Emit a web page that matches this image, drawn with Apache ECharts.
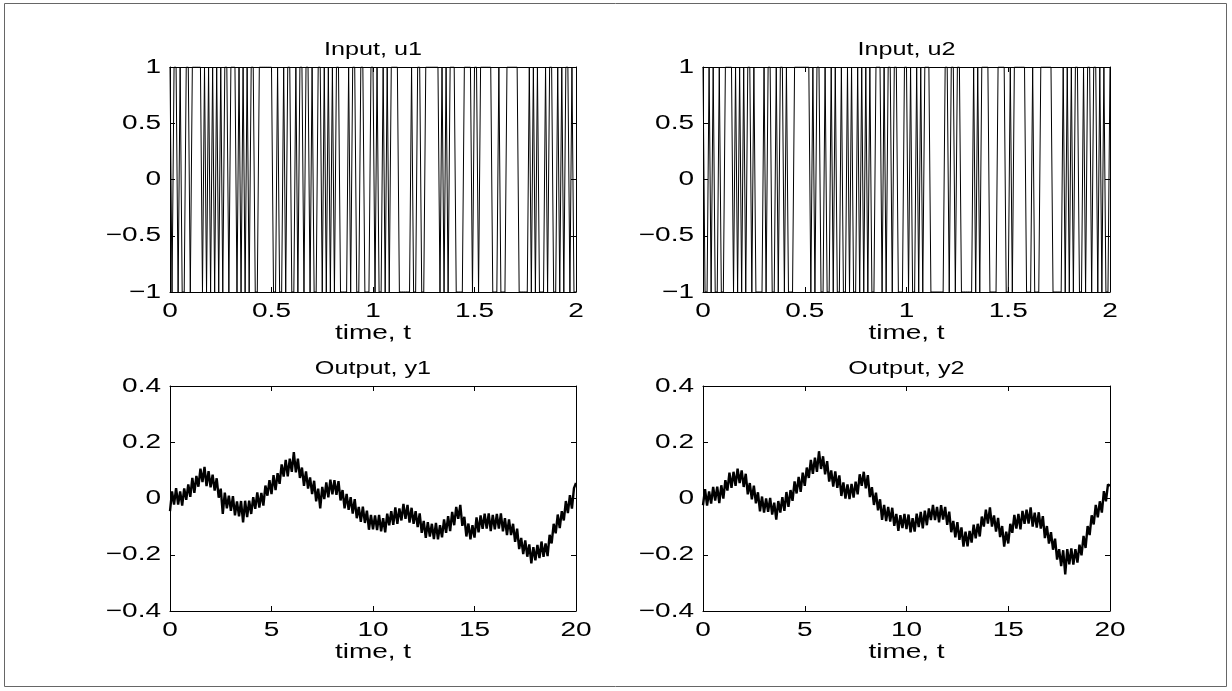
<!DOCTYPE html>
<html><head><meta charset="utf-8">
<script src="https://cdn.jsdelivr.net/npm/echarts@6/dist/echarts.min.js"></script>
<style>html,body{margin:0;padding:0;background:#fff}#c{width:1232px;height:691px}</style>
</head><body><div id="c"></div><script>
// ---- data ----
const titles = ['Input, u1', 'Input, u2', 'Output, y1', 'Output, y2'];
const xName = 'time, t';
const inputDt = 0.01;
const inputEnd = 2;
const outputDt = 0.1;

// tick labels
const inXTicks = [0, 0.5, 1, 1.5, 2];
const inYTicks = [-1, -0.5, 0, 0.5, 1];
const outXTicks = [0, 5, 10, 15, 20];
const outYTicks = [-0.4, -0.2, 0, 0.2, 0.4];

// switching instants (s) of the binary inputs
const u1Start = 1;
const u1Switch = [0.01,0.02,0.04,0.05,0.06,0.08,0.10,0.11,0.16,0.17,0.18,0.19,0.20,0.21,0.22,0.23,0.24,0.25,0.26,0.27,0.29,0.30,0.33,0.34,0.35,0.36,0.37,0.38,0.39,0.40,0.42,0.44,0.51,0.53,0.54,0.56,0.57,0.58,0.60,0.62,0.63,0.64,0.66,0.67,0.69,0.70,0.71,0.73,0.75,0.76,0.77,0.78,0.79,0.80,0.81,0.82,0.84,0.88,0.89,0.90,0.92,0.94,0.96,0.99,1.01,1.02,1.03,1.05,1.06,1.07,1.08,1.09,1.13,1.19,1.20,1.22,1.24,1.26,1.33,1.34,1.35,1.36,1.37,1.38,1.41,1.45,1.49,1.50,1.52,1.53,1.59,1.62,1.63,1.66,1.72,1.77,1.78,1.79,1.80,1.81,1.82,1.85,1.86,1.87,1.89,1.91,1.92,1.93,1.94,1.95,1.97,1.98,1.99];
const u2Start = 1;
const u2Switch = [0.01,0.03,0.04,0.05,0.06,0.08,0.09,0.11,0.15,0.16,0.17,0.18,0.19,0.20,0.21,0.22,0.24,0.25,0.26,0.30,0.31,0.32,0.34,0.36,0.37,0.38,0.40,0.41,0.42,0.45,0.53,0.54,0.55,0.56,0.58,0.60,0.61,0.63,0.64,0.65,0.66,0.68,0.69,0.71,0.72,0.73,0.74,0.76,0.77,0.78,0.79,0.80,0.81,0.82,0.83,0.85,0.88,0.89,0.90,0.91,0.93,0.94,0.96,0.99,1.01,1.02,1.03,1.05,1.06,1.07,1.08,1.09,1.12,1.19,1.21,1.22,1.24,1.25,1.27,1.33,1.34,1.35,1.36,1.37,1.41,1.45,1.49,1.51,1.52,1.53,1.59,1.62,1.63,1.66,1.72,1.77,1.78,1.79,1.80,1.81,1.82,1.83,1.85,1.87,1.88,1.89,1.91,1.92,1.94,1.95,1.96,1.97,1.98,2.00];

// outputs sampled every 0.1 s (0 .. 20 s)
const y1 = [
-0.045,0.025,-0.022,0.037,-0.022,0.025,-0.025,0.036,-0.005,0.05,
0.006,0.073,0.02,0.08,0.042,0.106,0.058,0.112,0.044,0.097,
0.04,0.085,0.028,0.072,0.003,0.035,-0.055,0.021,-0.035,0.01,
-0.044,0.008,-0.06,-0.01,-0.063,-0.009,-0.085,-0.008,-0.066,-0.008,
-0.055,0.005,-0.037,0.022,-0.032,0.02,-0.025,0.046,0.01,0.065,
0.016,0.083,0.03,0.09,0.052,0.121,0.078,0.137,0.079,0.142,
0.095,0.165,0.093,0.142,0.073,0.11,0.045,0.096,0.035,0.075,
0.016,0.063,-0.01,0.035,-0.035,0.041,-0.002,0.057,0.004,0.067,
0.015,0.065,0.013,0.062,-0.007,0.03,-0.035,0.016,-0.04,0.005,
-0.054,-0.002,-0.07,-0.03,-0.083,-0.029,-0.087,-0.043,-0.111,-0.058,
-0.11,-0.06,-0.112,-0.058,-0.117,-0.07,-0.12,-0.054,-0.095,-0.045,
-0.094,-0.032,-0.09,-0.035,-0.078,-0.019,-0.072,-0.023,-0.086,-0.033,
-0.09,-0.045,-0.102,-0.053,-0.122,-0.08,-0.14,-0.084,-0.135,-0.09,
-0.144,-0.087,-0.145,-0.095,-0.138,-0.074,-0.122,-0.063,-0.116,-0.048,
-0.095,-0.03,-0.072,-0.023,-0.097,-0.065,-0.135,-0.089,-0.145,-0.095,
-0.139,-0.067,-0.12,-0.06,-0.108,-0.054,-0.107,-0.053,-0.116,-0.058,
-0.11,-0.055,-0.107,-0.053,-0.117,-0.07,-0.13,-0.074,-0.13,-0.09,
-0.154,-0.107,-0.18,-0.14,-0.198,-0.149,-0.207,-0.163,-0.231,-0.173,
-0.22,-0.165,-0.212,-0.153,-0.207,-0.16,-0.205,-0.129,-0.16,-0.09,
-0.124,-0.057,-0.105,-0.045,-0.078,-0.009,-0.052,0.012,-0.036,0.037,
0.055];
const y2 = [
-0.024,0.033,-0.025,0.025,-0.018,0.041,-0.007,0.042,-0.016,0.047,
0.0,0.065,0.028,0.092,0.038,0.095,0.045,0.106,0.055,0.1,
0.041,0.088,0.015,0.055,-0.003,0.046,-0.017,0.022,-0.046,0.007,
-0.05,0.0,-0.047,0.002,-0.057,-0.015,-0.075,-0.009,-0.05,0.005,
-0.044,0.023,-0.03,0.03,-0.008,0.061,0.018,0.077,0.024,0.092,
0.045,0.11,0.073,0.137,0.088,0.145,0.095,0.168,0.105,0.15,
0.086,0.133,0.06,0.1,0.042,0.096,0.038,0.082,0.009,0.057,
0.0,0.05,-0.002,0.052,0.003,0.06,0.015,0.086,0.045,0.095,
0.036,0.083,0.005,0.04,-0.023,0.021,-0.042,-0.003,-0.076,-0.023,
-0.08,-0.03,-0.082,-0.033,-0.097,-0.055,-0.115,-0.059,-0.105,-0.055,
-0.109,-0.057,-0.12,-0.07,-0.118,-0.054,-0.102,-0.048,-0.106,-0.043,
-0.095,-0.035,-0.077,-0.023,-0.077,-0.03,-0.085,-0.024,-0.075,-0.03,
-0.094,-0.047,-0.12,-0.08,-0.138,-0.084,-0.147,-0.103,-0.171,-0.118,
-0.17,-0.115,-0.157,-0.093,-0.142,-0.09,-0.135,-0.064,-0.1,-0.04,
-0.089,-0.032,-0.1,-0.06,-0.118,-0.069,-0.137,-0.098,-0.171,-0.118,
-0.16,-0.09,-0.122,-0.058,-0.107,-0.055,-0.11,-0.044,-0.09,-0.04,
-0.089,-0.032,-0.1,-0.05,-0.103,-0.049,-0.107,-0.063,-0.141,-0.098,
-0.16,-0.12,-0.182,-0.143,-0.217,-0.18,-0.24,-0.184,-0.27,-0.18,
-0.234,-0.177,-0.235,-0.18,-0.228,-0.164,-0.202,-0.133,-0.176,-0.098,
-0.13,-0.06,-0.092,-0.023,-0.067,-0.01,-0.05,0.026,-0.01,0.05,
0.045];

// ---- build series data ----
function stepSignal(start, switches) {
  const sw = new Set(switches.map(t => Math.round(t / inputDt)));
  const n = Math.round(inputEnd / inputDt);
  const out = []; let v = start;
  for (let k = 0; k <= n; k++) {
    if (sw.has(k)) v = -v;
    out.push([+(k * inputDt).toFixed(2), v]);
  }
  return out;
}
function sampled(arr) { return arr.map((v, k) => [+(k * outputDt).toFixed(1), v]); }
function range(ticks) { return {min: ticks[0], max: ticks[ticks.length - 1], interval: +(ticks[1] - ticks[0]).toFixed(4)}; }

const FONT = '"Liberation Sans", Arial, Helvetica, sans-serif';
const SX = 1.4;           // horizontal stretch of the reference lettering
const fmt = v => String(v).replace('-', '\u2212');

const grids = [
  {left: 170, top: 67, width: 406, height: 225},
  {left: 703, top: 67, width: 407, height: 225},
  {left: 170, top: 386, width: 406, height: 225},
  {left: 703, top: 386, width: 407, height: 225}
];
const xt = [inXTicks, inXTicks, outXTicks, outXTicks];
const yt = [inYTicks, inYTicks, outYTicks, outYTicks];
const data = [stepSignal(u1Start, u1Switch), stepSignal(u2Start, u2Switch), sampled(y1), sampled(y2)];

const xAxis = [], yAxis = [], series = [];
const line = {show: true, onZero: false, lineStyle: {color: '#000', width: 1}};
const tick = {show: true, inside: true, length: 5, lineStyle: {color: '#000', width: 1}};
grids.forEach((g, i) => {
  ['bottom', 'top'].forEach(p => xAxis.push({type: 'value', gridIndex: i, position: p, ...range(xt[i]),
    axisLine: line, axisTick: tick, splitLine: {show: false}, axisLabel: {show: false}}));
  ['left', 'right'].forEach(p => yAxis.push({type: 'value', gridIndex: i, position: p, ...range(yt[i]),
    axisLine: line, axisTick: tick, splitLine: {show: false}, axisLabel: {show: false}}));
  series.push({type: 'line', xAxisIndex: 2 * i, yAxisIndex: 2 * i, data: data[i],
    showSymbol: false, symbol: 'none', lineStyle: {color: '#000', width: i < 2 ? 1 : 2.4}, animation: false});
});

const chart = echarts.init(document.getElementById('c'), null, {renderer: 'canvas'});
chart.setOption({backgroundColor: '#fff', animation: false, grid: grids, xAxis, yAxis, series});

// ---- lettering (placed through the axes' own scales) ----
function txt(x, y, s, size, align, valign) {
  return {type: 'text', x, y, scaleX: SX, silent: true,
    style: {text: s, fill: '#000', fontSize: size, fontFamily: FONT, textAlign: align, textVerticalAlign: valign}};
}
const graphic = [
  {type: 'rect', shape: {x: 4.5, y: 3.5, width: 1222, height: 683}, style: {fill: 'none', stroke: '#666', lineWidth: 1}, silent: true}
];
grids.forEach((g, i) => {
  const bottom = g.top + g.height;
  xt[i].forEach(v => {
    const px = chart.convertToPixel({xAxisIndex: 2 * i}, v);
    graphic.push(txt(px, bottom + 9, fmt(v), 20, 'center', 'top'));
  });
  yt[i].forEach(v => {
    const py = chart.convertToPixel({yAxisIndex: 2 * i}, v);
    graphic.push(txt(g.left - 9, py, fmt(v), 20, 'right', 'middle'));
  });
  graphic.push(txt(g.left + g.width / 2, bottom + 41, xName, 20, 'center', 'middle'));
  graphic.push(txt(g.left + g.width / 2, g.top - 17, titles[i], 18, 'center', 'middle'));
});
chart.setOption({graphic});
</script></body></html>
